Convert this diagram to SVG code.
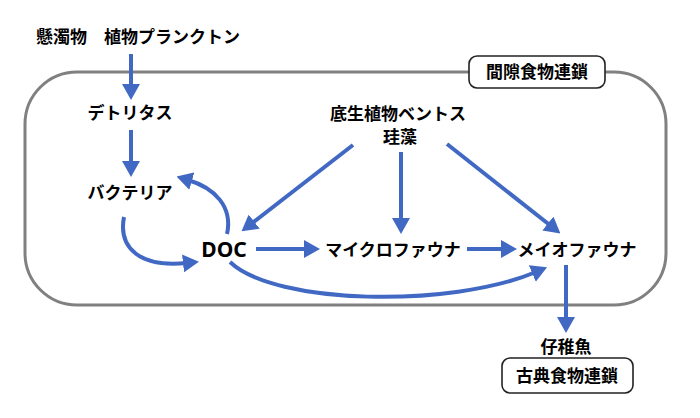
<svg xmlns="http://www.w3.org/2000/svg" width="700" height="418" viewBox="0 0 700 418">
<style>
text{font-family:"Noto Sans CJK JP","Noto Sans",sans-serif;font-weight:bold;font-size:17px;fill:#000;text-anchor:middle}
.c{fill:none;stroke:#4169C4;stroke-width:4}
.lbl{fill:#fff;stroke:#222;stroke-width:1.6}
</style>
<defs>
<marker id="ah" markerUnits="userSpaceOnUse" markerWidth="16" markerHeight="18" refX="4" refY="9" orient="auto">
<path d="M0,0 L16,9 L0,18 z" fill="#4169C4"/>
</marker>
</defs>
<rect x="25" y="72" width="641" height="233" rx="52" ry="52" fill="none" stroke="#808080" stroke-width="3"/>
<g id="connectors">
<line class="c" x1="131" y1="54" x2="131" y2="88" marker-end="url(#ah)"/>
<line class="c" x1="131" y1="130" x2="131" y2="165" marker-end="url(#ah)"/>
<path class="c" d="M124,217 C118,248 140,268 187,263" marker-end="url(#ah)"/>
<path class="c" d="M227,234 C233,207 215,188 188,180" marker-end="url(#ah)"/>
<line class="c" x1="256" y1="249" x2="308" y2="249" marker-end="url(#ah)"/>
<line class="c" x1="467" y1="249" x2="505" y2="249" marker-end="url(#ah)"/>
<path class="c" d="M230,262 C275,305 450,308 536,272" marker-end="url(#ah)"/>
<line class="c" x1="353" y1="145" x2="251" y2="224" marker-end="url(#ah)"/>
<line class="c" x1="401" y1="152" x2="401" y2="222" marker-end="url(#ah)"/>
<line class="c" x1="447" y1="144" x2="551" y2="226" marker-end="url(#ah)"/>
<line class="c" x1="566" y1="265" x2="566" y2="321" marker-end="url(#ah)"/>
</g>
<g id="n-suspended"><text x="36" y="43" style="text-anchor:start">懸濁物　植物プランクトン</text></g>
<g id="n-detritus"><text x="130" y="119">デトリタス</text></g>
<g id="n-bacteria"><text x="130" y="199">バクテリア</text></g>
<g id="n-doc"><text x="224" y="257" style="font-family:'Noto Sans',sans-serif;font-size:21px">DOC</text></g>
<g id="n-micro"><text x="393" y="256">マイクロファウナ</text></g>
<g id="n-meio"><text x="577" y="256">メイオファウナ</text></g>
<g id="n-benthos"><text x="398" y="120">底生植物ベントス</text><text x="400" y="143">珪藻</text></g>
<g id="n-fish"><text x="566" y="353">仔稚魚</text></g>
<g id="n-interstitial"><rect class="lbl" x="469" y="56" width="136" height="32" rx="8"/><text x="537" y="78">間隙食物連鎖</text></g>
<g id="n-classic"><rect class="lbl" x="502" y="358" width="131" height="35" rx="8"/><text x="567" y="382">古典食物連鎖</text></g>
</svg>
